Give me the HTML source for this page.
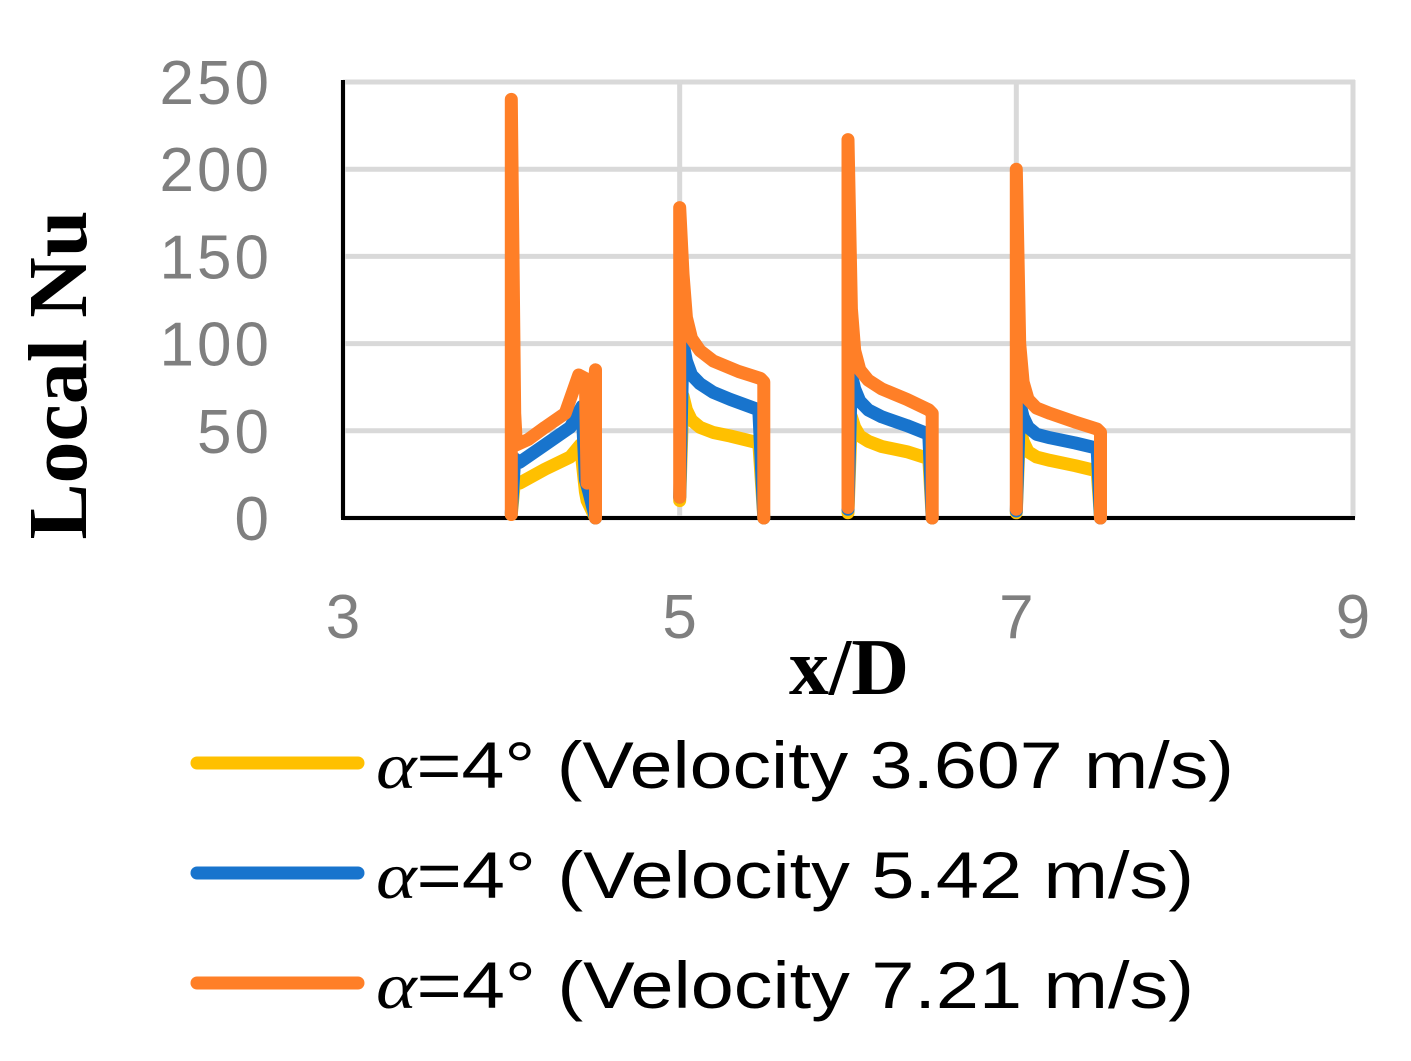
<!DOCTYPE html>
<html><head><meta charset="utf-8"><style>
body{margin:0;background:#fff;}
svg text{font-family:"Liberation Sans",sans-serif;}
</style></head><body>
<svg width="1411" height="1056" viewBox="0 0 1411 1056">
<g id="grid"></g>
<g id="ticks"></g>
<line x1="343" y1="80" x2="343" y2="520" stroke="#000" stroke-width="4"/>
<line x1="341" y1="518" x2="1355" y2="518" stroke="#000" stroke-width="4"/>
<g id="series"></g>
<text x="86" y="375" transform="rotate(-90 86 375)" text-anchor="middle" font-size="84" font-weight="bold" style="font-family:'Liberation Serif',serif">Local Nu</text>
<text x="849" y="694" text-anchor="middle" font-size="80" font-weight="bold" style="font-family:'Liberation Serif',serif">x/D</text>
<g>
<g><line x1="197" y1="763" x2="358" y2="763" stroke="#FFC000" stroke-width="13" stroke-linecap="round"/><text x="376" y="788" font-size="66" textLength="858" lengthAdjust="spacingAndGlyphs"><tspan font-style="italic" style="font-family:'Liberation Serif',serif">α</tspan>=4° (Velocity 3.607 m/s)</text></g>
<g><line x1="197" y1="873" x2="358" y2="873" stroke="#1874CD" stroke-width="13" stroke-linecap="round"/><text x="376" y="898" font-size="66" textLength="818" lengthAdjust="spacingAndGlyphs"><tspan font-style="italic" style="font-family:'Liberation Serif',serif">α</tspan>=4° (Velocity 5.42 m/s)</text></g>
<g><line x1="197" y1="983" x2="358" y2="983" stroke="#FF7F27" stroke-width="13" stroke-linecap="round"/><text x="376" y="1008" font-size="66" textLength="818" lengthAdjust="spacingAndGlyphs"><tspan font-style="italic" style="font-family:'Liberation Serif',serif">α</tspan>=4° (Velocity 7.21 m/s)</text></g>
</g>
</svg>
<script>
const xTicks=[3,5,7,9];
const yTicks=[0,50,100,150,200,250];
const yellowSegs=[
 [[4.0,2],[4.02,22],[4.05,20],[4.2,28],[4.35,35],[4.41,42],[4.44,15],[4.45,10],[4.5,0]],
 [[5.0,10],[5.02,70],[5.04,62],[5.07,56],[5.12,52],[5.2,49],[5.3,47],[5.47,43],[5.5,0]],
 [[6.0,3],[6.02,58],[6.04,52],[6.07,47],[6.12,44],[6.2,41],[6.35,38],[6.48,34],[6.5,0]],
 [[7.0,3],[7.02,52],[7.04,44],[7.07,38],[7.12,35],[7.2,33],[7.35,30],[7.48,27],[7.5,0]]];
const blueSegs=[
 [[4.0,3],[4.02,34],[4.05,32],[4.2,42],[4.35,52],[4.42,64],[4.44,22],[4.46,15],[4.5,0]],
 [[5.0,12],[5.02,100],[5.04,90],[5.07,82],[5.12,77],[5.2,72],[5.3,68],[5.47,62],[5.5,0]],
 [[6.0,5],[6.02,82],[6.04,74],[6.07,67],[6.12,62],[6.2,58],[6.35,53],[6.48,48],[6.5,0]],
 [[7.0,4],[7.02,66],[7.04,58],[7.07,52],[7.12,48],[7.2,46],[7.35,43],[7.48,40],[7.5,0]]];
const orangeSegs=[
 [[4.0,2],[4.0,240],[4.02,60],[4.03,42],[4.1,45],[4.2,52],[4.32,60],[4.4,82],[4.44,80],[4.45,20],[4.5,85],[4.5,0]],
 [[5.0,12],[5.0,178],[5.02,140],[5.04,115],[5.07,103],[5.12,96],[5.2,90],[5.35,84],[5.48,80],[5.5,78],[5.5,0]],
 [[6.0,6],[6.0,217],[6.02,120],[6.04,96],[6.07,85],[6.12,79],[6.2,74],[6.35,68],[6.48,62],[6.5,60],[6.5,0]],
 [[7.0,5],[7.0,200],[7.02,100],[7.04,78],[7.07,68],[7.12,63],[7.2,60],[7.35,55],[7.48,51],[7.5,49],[7.5,0]]];
const X=v=>343+(v-3)*(1353-343)/6;
const Y=v=>518-v*(518-82)/250;
const NS='http://www.w3.org/2000/svg';
const grid=document.getElementById('grid'),ticks=document.getElementById('ticks'),ser=document.getElementById('series');
yTicks.forEach(t=>{
 const l=document.createElementNS(NS,'line');
 
 
 l.setAttribute('x1',343);l.setAttribute('x2',1355);l.setAttribute('y1',Y(t));l.setAttribute('y2',Y(t));
 l.setAttribute('stroke','#d9d9d9');l.setAttribute('stroke-width',5);grid.appendChild(l);
 const tx=document.createElementNS(NS,'text');
 
 
 tx.setAttribute('x',272);tx.setAttribute('y',Y(t)+22);tx.setAttribute('text-anchor','end');
 tx.setAttribute('font-size','62');tx.setAttribute('letter-spacing','3');tx.setAttribute('fill','#7f7f7f');tx.textContent=t;ticks.appendChild(tx);
});
xTicks.forEach(t=>{
 const l=document.createElementNS(NS,'line');
 
 
 l.setAttribute('x1',X(t));l.setAttribute('x2',X(t));l.setAttribute('y1',80);l.setAttribute('y2',518);
 l.setAttribute('stroke','#d9d9d9');l.setAttribute('stroke-width',5);grid.appendChild(l);
 const tx=document.createElementNS(NS,'text');
 
 
 tx.setAttribute('x',X(t));tx.setAttribute('y',638);tx.setAttribute('text-anchor','middle');
 tx.setAttribute('font-size','62');tx.setAttribute('fill','#7f7f7f');tx.textContent=t;ticks.appendChild(tx);
});
function draw(segs,color,name){
 segs.forEach(seg=>{
  const p=document.createElementNS(NS,'path');
  
  
  p.setAttribute('d',seg.map((d,i)=>(i?'L':'M')+X(d[0]).toFixed(1)+','+Y(d[1]).toFixed(1)).join(''));
  p.setAttribute('fill','none');p.setAttribute('stroke',color);p.setAttribute('stroke-width',13);
  p.setAttribute('stroke-linejoin','round');p.setAttribute('stroke-linecap','round');
  ser.appendChild(p);
 });
}
draw(yellowSegs,'#FFC000','series-3607');
draw(blueSegs,'#1874CD','series-542');
draw(orangeSegs,'#FF7F27','series-721');
</script>
</body></html>
